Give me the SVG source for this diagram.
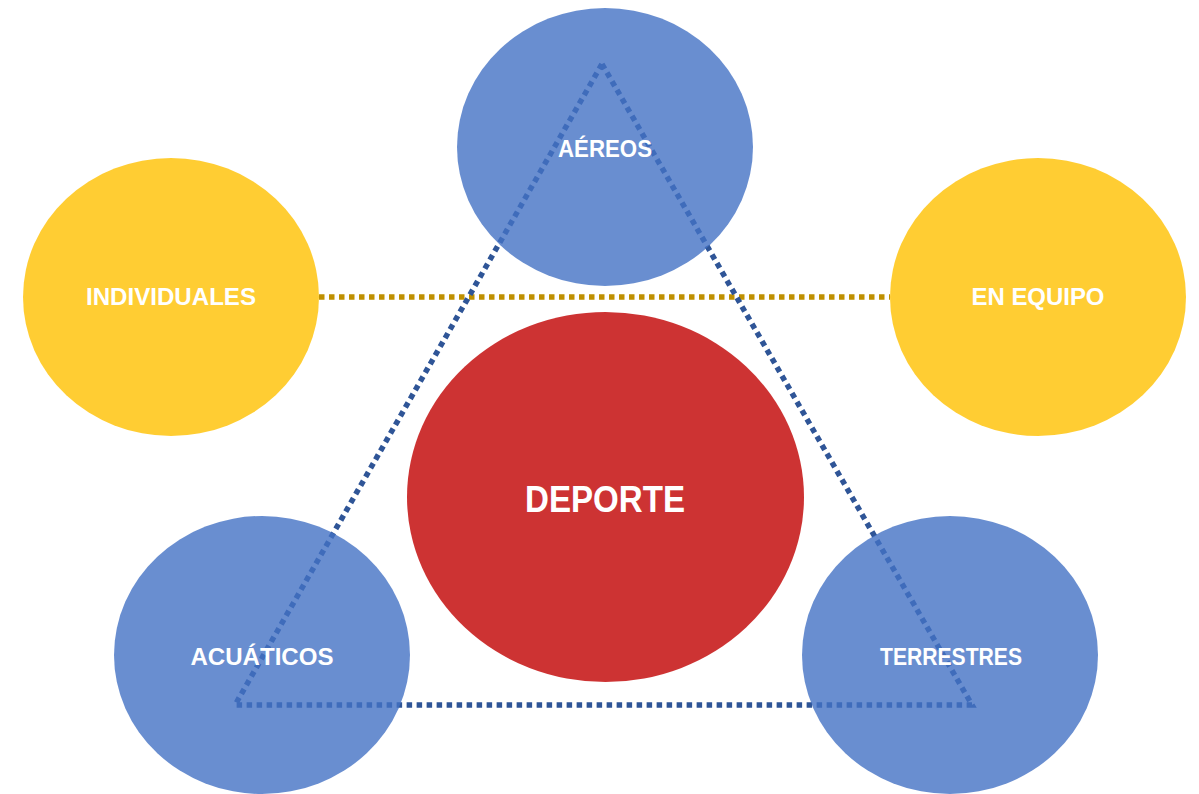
<svg xmlns="http://www.w3.org/2000/svg" width="1199" height="794" viewBox="0 0 1199 794">
  <style>
    .blue { fill: #4472C4; fill-opacity: 0.8; }
    .gold { fill: #FFC000; fill-opacity: 0.8; }
    .red { fill: #C00000; fill-opacity: 0.8; }
    .lbl { font-family: "Liberation Sans", Arial, sans-serif; font-weight: bold; fill: #FFFFFF; font-size: 23px; text-anchor: middle; }
    .big { font-size: 37px; }
    .dotline { fill: none; stroke-width: 5.5; stroke-dasharray: 5.5 4.5; }
  </style>
  <rect width="1199" height="794" fill="#FFFFFF"/>
  <g id="connectors">
    <line class="dotline" x1="319" y1="297" x2="890" y2="297" stroke="#BF9000"/>
    <polygon class="dotline" points="602,64 972,705 235,705" stroke="#2F5597"/>
  </g>
  <g id="node-aereos">
    <ellipse class="blue" cx="605" cy="147" rx="148" ry="139"/>
    <text class="lbl" x="605" y="157" textLength="94" lengthAdjust="spacingAndGlyphs">AÉREOS</text>
  </g>
  <g id="node-individuales">
    <ellipse class="gold" cx="171" cy="297" rx="148" ry="139"/>
    <text class="lbl" x="171" y="305" textLength="170" lengthAdjust="spacingAndGlyphs">INDIVIDUALES</text>
  </g>
  <g id="node-equipo">
    <ellipse class="gold" cx="1038" cy="297" rx="148" ry="139"/>
    <text class="lbl" x="1038" y="305" textLength="133" lengthAdjust="spacingAndGlyphs">EN EQUIPO</text>
  </g>
  <g id="node-deporte">
    <ellipse class="red" cx="605.5" cy="497" rx="198.5" ry="185"/>
    <text class="lbl big" x="605" y="512" textLength="160" lengthAdjust="spacingAndGlyphs">DEPORTE</text>
  </g>
  <g id="node-acuaticos">
    <ellipse class="blue" cx="262" cy="655" rx="148" ry="139"/>
    <text class="lbl" x="262" y="665" textLength="143" lengthAdjust="spacingAndGlyphs">ACUÁTICOS</text>
  </g>
  <g id="node-terrestres">
    <ellipse class="blue" cx="950" cy="655" rx="148" ry="139"/>
    <text class="lbl" x="951" y="665" textLength="142" lengthAdjust="spacingAndGlyphs">TERRESTRES</text>
  </g>
</svg>
